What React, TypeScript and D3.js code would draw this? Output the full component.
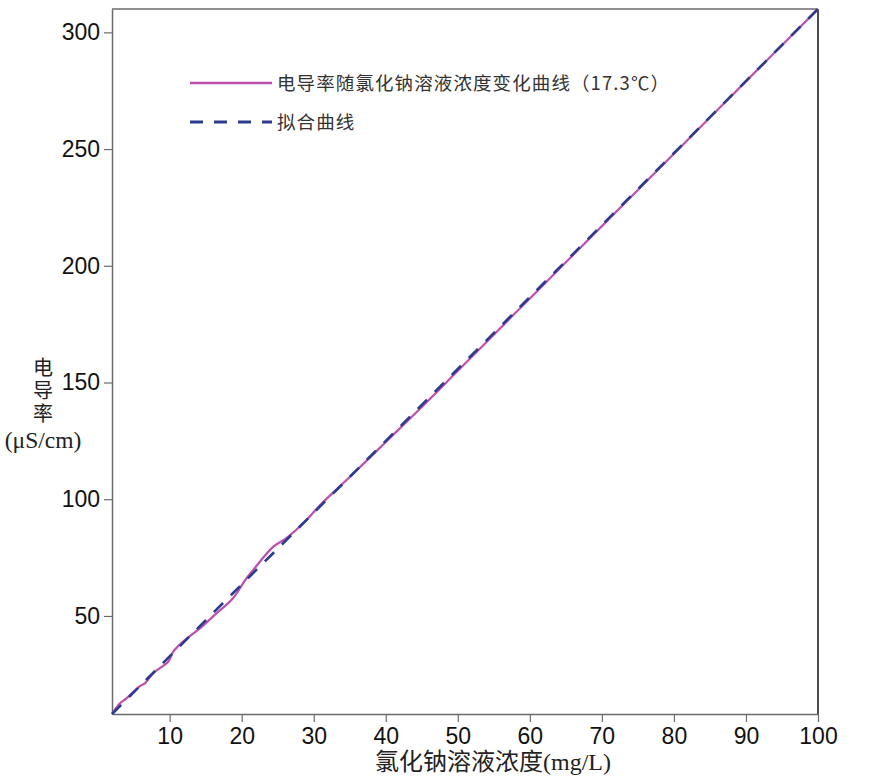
import { useEffect, useRef } from 'react';
import * as d3 from 'd3';

// 实测曲线 (x: mg/L, y: μS/cm)
const measuredX = [2, 3.1, 4.0, 5.0, 5.9, 6.6, 7.7, 9.1, 9.8, 10.5, 11.2, 12.4, 14.2, 16.5, 18.8, 20.5, 21.6, 24.4, 26.2, 29.0, 30.9, 35, 40, 45, 50, 55, 60, 65, 70, 75, 80, 85, 90, 95, 100];
const measuredY = [8, 12.6, 14.7, 17.6, 20, 21.2, 25.4, 28.6, 30.4, 34.7, 37.1, 40.4, 44.7, 51.1, 57.6, 65.4, 69.7, 79.7, 83.3, 91.1, 97.5, 109.5, 124.5, 139.5, 155, 170.5, 186, 201.5, 217, 232.5, 248, 263.5, 279, 294.5, 310];

// 拟合曲线
const fitX = [2, 10, 23, 30, 50, 70, 100];
const fitY = [8, 32.7, 72.7, 94.2, 155.8, 217.4, 310];

const xTicks = [10, 20, 30, 40, 50, 60, 70, 80, 90, 100];
const yTicks = [50, 100, 150, 200, 250, 300];

const legendLabels = ['电导率随氯化钠溶液浓度变化曲线（17.3℃）', '拟合曲线'];
const xTitle = '氯化钠溶液浓度(mg/L)';
const yTitleLines = ['电', '导', '率', '(μS/cm)'];

const W = 870;
const H = 782;
const margin = { left: 112, right: 52, top: 9, bottom: 68 };

const PURPLE = '#bd4fae';
const BLUE = '#2c3b8f';
const AXIS = '#6b6b6b';

export default function App() {
  const svgRef = useRef<SVGSVGElement>(null);

  useEffect(() => {
    const svg = d3.select(svgRef.current);
    svg.selectAll('*').remove();

    const x = d3.scaleLinear().domain([2, 100]).range([margin.left, W - margin.right]);
    const y = d3.scaleLinear().domain([8, 310]).range([H - margin.bottom, margin.top]);

    // 外框 (上、右)
    svg.append('line')
      .attr('x1', x(2)).attr('x2', x(100))
      .attr('y1', y(310)).attr('y2', y(310))
      .attr('stroke', AXIS).attr('stroke-width', 1.5);
    svg.append('line')
      .attr('x1', x(100)).attr('x2', x(100))
      .attr('y1', y(310)).attr('y2', y(8))
      .attr('stroke', '#111').attr('stroke-width', 1.5);

    const xAxis = svg.append('g')
      .attr('transform', `translate(0,${y(8)})`)
      .call(d3.axisBottom(x).tickValues(xTicks).tickSize(8).tickPadding(6).tickSizeOuter(0));
    const yAxis = svg.append('g')
      .attr('transform', `translate(${x(2)},0)`)
      .call(d3.axisLeft(y).tickValues(yTicks).tickSize(8).tickPadding(4).tickSizeOuter(0));

    [xAxis, yAxis].forEach(g => {
      g.select('.domain').attr('stroke', AXIS).attr('stroke-width', 1.5);
      g.selectAll('.tick line').attr('stroke', AXIS).attr('stroke-width', 1.2);
      g.selectAll('.tick text')
        .attr('fill', '#111')
        .style('font-family', '"Liberation Sans", Arial, sans-serif')
        .style('font-size', '23px');
    });

    // 实测曲线
    svg.append('path')
      .datum(measuredX.map((d, i) => [d, measuredY[i]] as [number, number]))
      .attr('d', d3.line<[number, number]>().x(d => x(d[0])).y(d => y(d[1])).curve(d3.curveCatmullRom))
      .attr('fill', 'none')
      .attr('stroke', PURPLE)
      .attr('stroke-width', 2.2);

    // 拟合曲线
    svg.append('path')
      .datum(fitX.map((d, i) => [d, fitY[i]] as [number, number]))
      .attr('d', d3.line<[number, number]>().x(d => x(d[0])).y(d => y(d[1])).curve(d3.curveMonotoneX))
      .attr('fill', 'none')
      .attr('stroke', BLUE)
      .attr('stroke-width', 2.6)
      .attr('stroke-dasharray', '13 11');

    // 图例
    const legend = svg.append('g');
    legendLabels.forEach((label, i) => {
      const ly = 83 + i * 39;
      legend.append('line')
        .attr('x1', 190).attr('x2', 272)
        .attr('y1', ly).attr('y2', ly)
        .attr('stroke', i === 0 ? PURPLE : BLUE)
        .attr('stroke-width', i === 0 ? 2.6 : 3)
        .attr('stroke-dasharray', i === 0 ? null : '13 11');
      legend.append('text')
        .attr('x', 277).attr('y', ly)
        .attr('dy', '0.36em')
        .attr('fill', '#333')
        .style('font-family', '"Noto Sans CJK SC", sans-serif')
        .style('font-size', '18.5px')
        .style('letter-spacing', '1.1px')
        .text(label);
    });

    // x 轴标题
    svg.append('text')
      .attr('x', (x(2) + x(100)) / 2 + 28)
      .attr('y', 770)
      .attr('text-anchor', 'middle')
      .attr('fill', '#222')
      .style('font-family', '"Liberation Serif", "Noto Sans CJK SC", serif')
      .style('font-size', '24px')
      .text(xTitle);

    // y 轴标题 (竖排)
    const yLabelY = [375, 398, 421, 448];
    yTitleLines.forEach((t, i) => {
      svg.append('text')
        .attr('x', 43)
        .attr('y', yLabelY[i])
        .attr('text-anchor', 'middle')
        .attr('fill', '#222')
        .style('font-family', '"Liberation Serif", "Noto Sans CJK SC", serif')
        .style('font-size', i < 3 ? '20px' : '23.5px')
        .text(t);
    });
  }, []);

  return (
    <svg
      ref={svgRef}
      width={W}
      height={H}
      style={{ position: 'absolute', left: 0, top: 0, background: '#fff' }}
    />
  );
}
